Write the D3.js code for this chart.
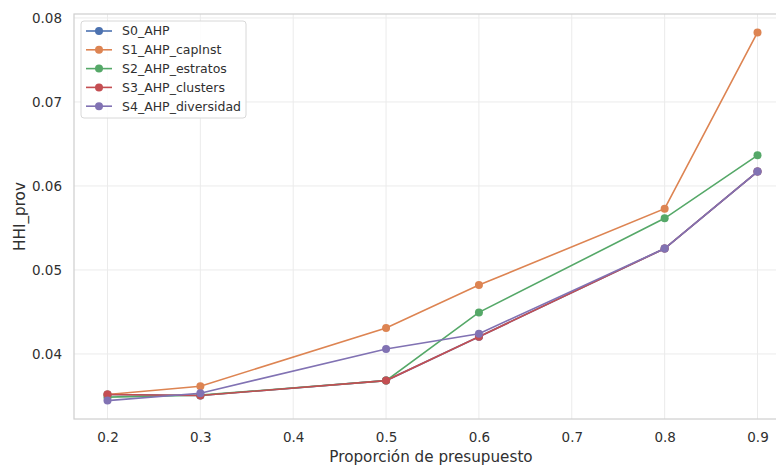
<!DOCTYPE html>
<html>
<head>
<meta charset="utf-8">
<script src="https://cdn.jsdelivr.net/npm/d3@7"></script>
<style>
  html, body { margin: 0; padding: 0; background: #fff; overflow: hidden; }
  svg { display: block; font-family: "DejaVu Sans", sans-serif; }
</style>
</head>
<body>
<svg id="chart" width="776" height="466"></svg>
<script>
// Budget proportion (x) and provincial HHI for each scenario
const proportions = [0.2, 0.3, 0.5, 0.6, 0.8, 0.9];
const seriesNames = ["S0_AHP", "S1_AHP_capInst", "S2_AHP_estratos", "S3_AHP_clusters", "S4_AHP_diversidad"];
const s0Values = [0.03517, 0.03505, 0.03683, 0.04205, 0.05255, 0.06172];
const s1Values = [0.03517, 0.03616, 0.04309, 0.04820, 0.05730, 0.07828];
const s2Values = [0.03486, 0.03510, 0.03683, 0.04495, 0.05615, 0.06365];
const s3Values = [0.03517, 0.03505, 0.03683, 0.04205, 0.05255, 0.06172];
const s4Values = [0.03445, 0.03533, 0.04060, 0.04241, 0.05255, 0.06172];
const xTicks = [0.2, 0.3, 0.4, 0.5, 0.6, 0.7, 0.8, 0.9];
const yTicks = [0.04, 0.05, 0.06, 0.07, 0.08];
const colors = ["#4c72b0", "#dd8452", "#55a868", "#c44e52", "#8172b3"];

const allSeries = [s0Values, s1Values, s2Values, s3Values, s4Values];
const svg = d3.select("#chart");

const plot = { left: 74, top: 14, right: 790, bottom: 419 };

// 5% padding around the data extent on both axes
const xExt = d3.extent(proportions);
const xPad = (xExt[1] - xExt[0]) * 0.05;
const yExt = d3.extent(allSeries.flat());
const yPad = (yExt[1] - yExt[0]) * 0.05;

const x = d3.scaleLinear().domain([xExt[0] - xPad, xExt[1] + xPad]).range([plot.left + 1, plot.right]);
const y = d3.scaleLinear().domain([yExt[0] - yPad, yExt[1] + yPad]).range([plot.bottom, plot.top]);

// Grid
const grid = svg.append("g");
grid.selectAll("line.gx").data(xTicks).join("line")
  .attr("x1", d => x(d)).attr("x2", d => x(d))
  .attr("y1", plot.top).attr("y2", plot.bottom)
  .attr("stroke", "#ebebeb").attr("stroke-width", 1);
grid.selectAll("line.gy").data(yTicks).join("line")
  .attr("x1", plot.left).attr("x2", plot.right)
  .attr("y1", d => y(d)).attr("y2", d => y(d))
  .attr("stroke", "#ebebeb").attr("stroke-width", 1);

// Frame
svg.append("rect")
  .attr("x", plot.left).attr("y", plot.top)
  .attr("width", plot.right - plot.left).attr("height", plot.bottom - plot.top)
  .attr("fill", "none").attr("stroke", "#d0d0d0").attr("stroke-width", 1.25);

// Axes (labels only, no tick marks)
const xAxis = svg.append("g")
  .attr("transform", `translate(0,${plot.bottom})`)
  .call(d3.axisBottom(x).tickValues(xTicks).tickFormat(d3.format(".1f")).tickSize(0).tickPadding(13));
const yAxis = svg.append("g")
  .attr("transform", `translate(${plot.left},0)`)
  .call(d3.axisLeft(y).tickValues(yTicks).tickFormat(d3.format(".2f")).tickSize(0).tickPadding(12));
[xAxis, yAxis].forEach(a => {
  a.select(".domain").remove();
  a.selectAll("text").attr("fill", "#303030").style("font-size", "13.5px").style("font-family", "DejaVu Sans, sans-serif");
});

svg.append("text")
  .attr("x", (plot.left + plot.right) / 2 - 1).attr("y", 462)
  .attr("text-anchor", "middle").attr("fill", "#303030")
  .style("font-size", "15.2px")
  .text("Proporción de presupuesto");
svg.append("text")
  .attr("transform", `translate(25,${(plot.top + plot.bottom) / 2}) rotate(-90)`)
  .attr("text-anchor", "middle").attr("fill", "#303030")
  .style("font-size", "15.2px")
  .text("HHI_prov");

// Series
const line = d3.line().x((d, i) => x(proportions[i])).y(d => y(d));
allSeries.forEach((vals, k) => {
  const g = svg.append("g");
  g.append("path").datum(vals)
    .attr("d", line).attr("fill", "none")
    .attr("stroke", colors[k]).attr("stroke-width", 1.6);
  g.selectAll("circle").data(vals).join("circle")
    .attr("cx", (d, i) => x(proportions[i])).attr("cy", d => y(d))
    .attr("r", 4).attr("fill", colors[k]);
});

// Legend
const legend = svg.append("g").attr("transform", "translate(81,21)");
legend.append("rect")
  .attr("x", 0).attr("y", 0).attr("width", 165).attr("height", 97)
  .attr("rx", 3).attr("fill", "rgba(255,255,255,0.85)")
  .attr("stroke", "#d8d8d8").attr("stroke-width", 1);
seriesNames.forEach((name, k) => {
  const cy = 10 + k * 18.8;
  legend.append("line")
    .attr("x1", 5).attr("x2", 31).attr("y1", cy).attr("y2", cy)
    .attr("stroke", colors[k]).attr("stroke-width", 1.6);
  legend.append("circle").attr("cx", 18).attr("cy", cy).attr("r", 4).attr("fill", colors[k]);
  legend.append("text")
    .attr("x", 41).attr("y", cy).attr("dy", "0.35em")
    .attr("fill", "#303030").style("font-size", "12.5px")
    .text(name);
});
</script>
</body>
</html>
